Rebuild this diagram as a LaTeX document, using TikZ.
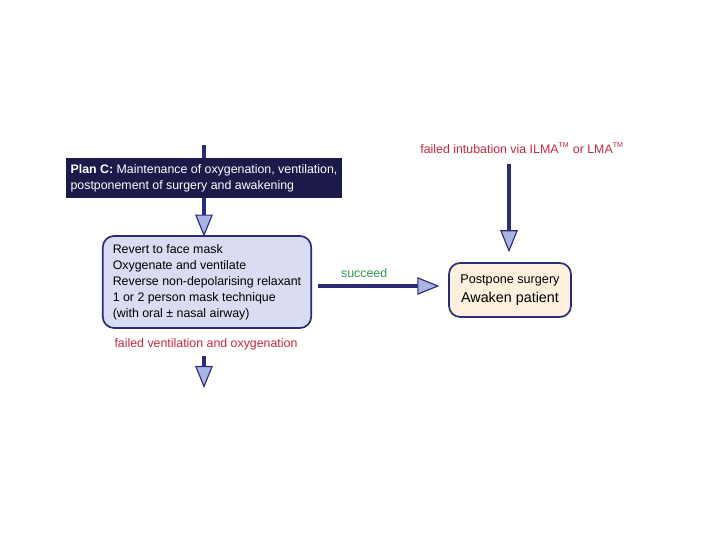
\documentclass[tikz,border=0pt]{standalone}
\usepackage{fontspec}
\setmainfont{Liberation Sans}
\usetikzlibrary{arrows.meta}
\definecolor{PlanNavy}{HTML}{1C1A48}
\definecolor{PlanLine}{HTML}{2B2B78}
\definecolor{PlanHead}{HTML}{A9B4E2}
\definecolor{PlanLilac}{HTML}{D9DCF2}
\definecolor{PlanPeach}{HTML}{FDF1DE}
\definecolor{PlanRed}{HTML}{C8283C}
\definecolor{PlanGreen}{HTML}{2A9A4A}

\begin{document}
\begin{tikzpicture}[
    font=\fontsize{8.8}{11.4}\selectfont,
    box/.style={draw=PlanLine,line width=1.2pt,rounded corners=8pt,align=left,inner xsep=0.25cm},
    arr/.style={-{Triangle[length=5.5mm,width=4.4mm,fill=PlanHead,line width=0.8pt]},line width=2.6pt,PlanLine},
    redlbl/.style={text=PlanRed},
  ]
    \useasboundingbox (0,0) rectangle (18,13.5);
    \node[fill=PlanNavy,text=white,align=left,minimum width=6.9cm,minimum height=1cm,inner xsep=0.1cm] (planc) at (5.1,9.05) {\textbf{Plan C:} Maintenance of oxygenation, ventilation,\\postponement of surgery and awakening};
    \node[box,fill=PlanLilac,minimum width=5.15cm,minimum height=2.3cm] (revert) at (5.175,6.45) {Revert to face mask\\Oxygenate and ventilate\\Reverse non-depolarising relaxant\\1 or 2 person mask technique\\(with oral ± nasal airway)};
    \node[box,fill=PlanPeach,align=center,minimum width=3.05cm,minimum height=1.35cm] (postpone) at (12.75,6.25) {\fontsize{9}{11}\selectfont Postpone surgery\\[2pt]\fontsize{10.2}{12}\selectfont Awaken patient};
    \node[redlbl] (failint) at (13.05,9.8) {failed intubation via ILMA\textsuperscript{\tiny TM} or LMA\textsuperscript{\tiny TM}};
    \node[redlbl] (failvent) at (5.15,4.9) {failed ventilation and oxygenation};
    \coordinate (top) at (5.1,9.875);
    \coordinate (bottom) at (5.1,3.8);
    \draw[PlanLine,line width=2.6pt] (top) -- (planc.north -| top);
    \draw[arr] (planc.south -| top) -- ([yshift=-1pt]revert.north -| top);
    \draw[arr] ([yshift=-1pt]failvent.south -| top) -- (bottom);
    \draw[arr] ([xshift=1.5mm]revert.east |- 0,6.35) -- node[pos=0.38,above=1pt,text=PlanGreen] {succeed} ([xshift=-2.2mm]postpone.west |- 0,6.35);
    \draw[arr] ([yshift=-4pt]failint.south -| 12.725,0) -- ([yshift=2.5mm]postpone.north -| 12.725,0);
  \end{tikzpicture}
\end{document}
